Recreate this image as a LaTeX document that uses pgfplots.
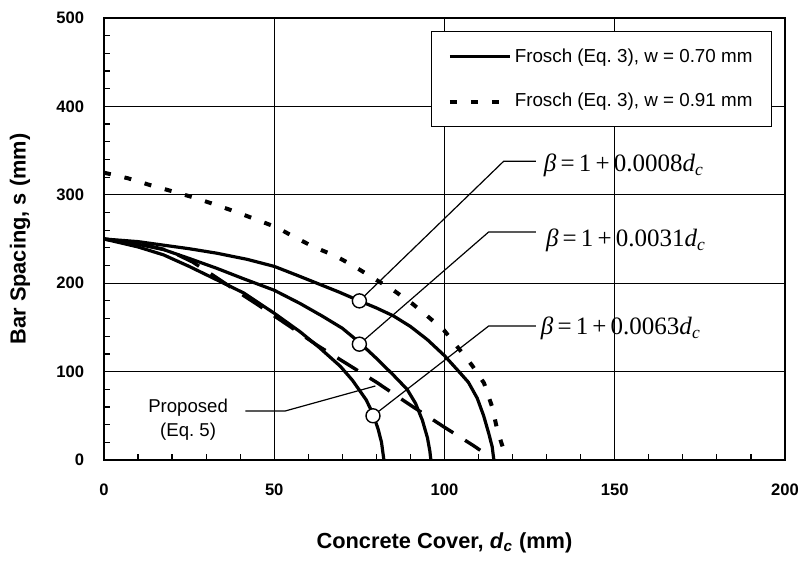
\documentclass[border=0pt]{standalone}
\usepackage{fontspec}
\setmainfont{Liberation Sans}
\newfontfamily\timesfont{Liberation Serif}
\usepackage{pgfplots}
\pgfplotsset{compat=1.18}

\begin{document}
\begin{tikzpicture}
\begin{axis}[
  scale only axis, width=340.5pt, height=221pt,
  xmin=0, xmax=200, ymin=0, ymax=500,
  xtick={0,50,...,200}, ytick={0,100,...,500},
  minor x tick num=4, minor y tick num=4,
  tick pos=left, tick align=inside,
  major tick length=3pt, minor tick length=3pt,
  every tick/.style={black, line width=0.6pt},
  grid=major, major grid style={black, line width=0.5pt},
  axis line style={line width=1pt},
  /pgf/number format/assume math mode=true,
  ticklabel style={font=\fontsize{8.3}{10}\selectfont\bfseries},
  yticklabel style={anchor=east, inner sep=0pt, xshift=-9.8pt},
  xticklabel style={yshift=-8.2pt},
  xlabel={Concrete Cover, \textit{d}\textsubscript{\textit{c}} (mm)},
  ylabel={Bar Spacing, s (mm)},
  label style={font=\fontsize{10.9}{13}\selectfont\bfseries},
  xlabel style={at={(axis description cs:0.5,-0.1878)}, anchor=center},
  ylabel style={at={(axis description cs:-0.1233,0.5)}, anchor=center},
  legend style={at={(rel axis cs:0.981,0.9706)}, anchor=north east, draw=black,
    line width=0.6pt, fill=white, font=\fontsize{9.4}{11}\selectfont,
    inner xsep=8pt, inner ysep=7pt, row sep=11pt, nodes={inner sep=1.5pt}},
  legend cell align=left,
  legend image code/.code={\draw[#1] (0pt,0pt) -- (30pt,0pt);},
]
% Frosch w=0.70, beta = 1+0.0008dc
\addplot[black, line width=1.6pt] coordinates {
 (0,250) (10,247) (17.5,243) (25,239) (33,234) (42,227) (50,219) (56,210)
 (62.5,200) (69,190) (75,180) (80,172) (85,163) (90,151) (95,136) (100,118)
 (104,101) (107,88) (109.6,70) (111.5,50) (113,30) (114,15) (114.5,0)};
\addlegendentry{Frosch (Eq.\ 3), w = 0.70 mm}
% Frosch w=0.91
\addplot[black, line width=2pt, dash pattern=on 3.5pt off 7pt] coordinates {
 (0,325) (7,318.7) (13.5,311) (20,304) (26.3,297) (32.6,289) (38.5,281) (44.7,272)
 (50.8,263) (56,252) (61.6,241) (67.9,231) (73.3,219.5) (79.2,205.5) (85,192)
 (90.5,177) (94.9,163) (99.8,147) (104.2,126) (108.1,107) (111.6,87) (114,60)
 (115.5,34) (117.4,11) (118,0)};
\addlegendentry{Frosch (Eq.\ 3), w = 0.91 mm}
% beta = 1+0.0031dc
\addplot[black, line width=1.6pt, forget plot] coordinates {
 (0,250) (10,244) (17.5,238) (25,228) (33,217) (41,205) (50,192) (57.6,177)
 (64,163) (70,149) (75,133) (80,115) (85,96) (89,80) (91.5,64) (93.5,45)
 (95,25) (95.7,10) (96,0)};
% beta = 1+0.0063dc
\addplot[black, line width=1.6pt, forget plot] coordinates {
 (0,250) (10,241) (17.5,232) (25,219) (33,204) (41,189) (50,166) (57.6,145)
 (63,128) (69.4,106) (73,90) (77,68) (79,52) (80.5,35) (81.5,20) (82.2,0)};
% Proposed (Eq. 5)
\addplot[black, line width=1.7pt, dash pattern=on 12pt off 7pt, forget plot] coordinates {
 (0,250) (10,245) (19,237) (26,224) (32,209) (39,191) (45,176) (55,150)
 (62.5,130) (70,112) (80,88) (90,62) (100,37) (108.6,16) (110.5,11)};
% leader lines
\addplot[black, line width=0.6pt, forget plot] coordinates {(75,180) (117.4,338) (126.8,338)};
\addplot[black, line width=0.6pt, forget plot] coordinates {(75,131) (113,258) (126.8,258)};
\addplot[black, line width=0.6pt, forget plot] coordinates {(79,50) (113,151.6) (126.8,151.6)};
\addplot[black, line width=0.6pt, forget plot] coordinates {(41.5,55.4) (53.2,55.4) (79.7,83.7)};
% circles
\addplot[only marks, mark=*, mark size=3.5pt, mark options={fill=white, draw=black, line width=0.7pt}, forget plot]
 coordinates {(75,180) (75,131) (79,50)};
% labels
\node[anchor=base west, inner sep=0, font=\fontsize{12.5}{15}\timesfont] at (axis cs:129.1,326)
 {\textit{β}\,=\,1\,+\,0.0008\textit{d}\textsubscript{\textit{c}}};
\node[anchor=base west, inner sep=0, font=\fontsize{12.5}{15}\timesfont] at (axis cs:129.7,241.3)
 {\textit{β}\,=\,1\,+\,0.0031\textit{d}\textsubscript{\textit{c}}};
\node[anchor=base west, inner sep=0, font=\fontsize{12.5}{15}\timesfont] at (axis cs:128.2,141.4)
 {\textit{β}\,=\,1\,+\,0.0063\textit{d}\textsubscript{\textit{c}}};
\node[anchor=base, inner sep=0, font=\fontsize{9.3}{11}\selectfont] at (axis cs:24.7,53.5) {Proposed};
\node[anchor=base, inner sep=0, font=\fontsize{9.3}{11}\selectfont] at (axis cs:24.7,26.6) {(Eq.\ 5)};
\end{axis}
\pgfresetboundingbox
\path ([shift={(-52pt,-51pt)}]current axis.south west) rectangle ([shift={(7.5pt,9pt)}]current axis.north east);
\end{tikzpicture}
\end{document}
